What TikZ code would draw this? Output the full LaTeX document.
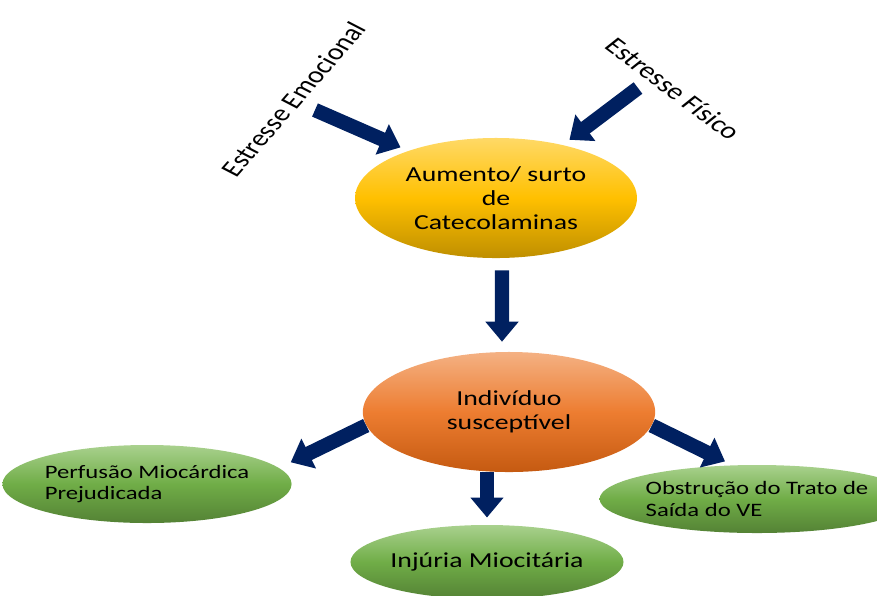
\documentclass[tikz,border=0pt]{standalone}
\usepackage{fontspec}
\setmainfont{Carlito}
\usetikzlibrary{shapes.geometric,arrows.meta}
\definecolor{azulseta}{HTML}{002060}
\definecolor{amareloA}{HTML}{FFD966}
\definecolor{amareloB}{HTML}{FFC000}
\definecolor{amareloC}{HTML}{BF8F00}
\definecolor{laranjaA}{HTML}{F4B183}
\definecolor{laranjaB}{HTML}{ED7D31}
\definecolor{laranjaC}{HTML}{C55A11}
\definecolor{verdeA}{HTML}{A9D18E}
\definecolor{verdeB}{HTML}{70AD47}
\definecolor{verdeC}{HTML}{548235}
\begin{document}
\begin{tikzpicture}[x=0.025cm,y=-0.025cm,
	esticado/.style={xscale=1.3,transform shape},
	bolha/.style={esticado,ellipse,inner sep=0pt,align=center},
	grande/.style={font=\fontsize{15.2}{17.3}\selectfont},
	pequena/.style={font=\fontsize{13.5}{15}\selectfont},
	amarela/.style={bolha,grande,top color=amareloA,bottom color=amareloC,middle color=amareloB},
	laranja/.style={bolha,grande,top color=laranjaA,bottom color=laranjaC,middle color=laranjaB},
	verde/.style={bolha,pequena,top color=verdeA,bottom color=verdeC,middle color=verdeB},
	seta/.style={azulseta,line width=0.36cm,-{Triangle[width=0.8cm,length=0.5cm]}}]
	\useasboundingbox (0,0) rectangle (877,595);
	\clip (0,0) rectangle (877,595);
	% causas
	\node[esticado,rotate=56,font=\fontsize{16.5}{18}\selectfont] (emo) at (293,99) {Estresse Emocional};
	\node[esticado,rotate=-44,font=\fontsize{16.5}{18}\selectfont] (fis) at (673,89) {Estresse Físico};
	\coordinate (emoTail) at (315,110);
	\coordinate (fisTail) at (638,88);
	% elipses
	\node[amarela,minimum width=5.42cm,minimum height=3cm] (catec) at (496,198) {Aumento/ surto\\de\\Catecolaminas};
	\node[laranja,minimum width=5.62cm,minimum height=3cm] (indiv) at (509,412) {Indivíduo\\susceptível};
	\node[verde,align=left,minimum width=5.25cm,minimum height=1.95cm] (perf) at (147,484) {Perfusão Miocárdica\\Prejudicada};
	\node[verde,grande,minimum width=5.17cm,minimum height=1.85cm] (injuria) at (487,562) {Injúria Miocitária};
	\node[verde,align=left,minimum width=5.85cm,minimum height=1.7cm] (obst) at (757,499) {Obstrução do Trato de\\Saída do VE};
	% setas
	\draw[seta,shorten >=0.21cm] (emoTail) -- (catec.145);
	\draw[seta,shorten >=0.21cm] (fisTail) -- (catec.46);
	\draw[seta,shorten <=0.3cm,shorten >=0.25cm] ([xshift=0.15cm]catec.south) -- ([xshift=-0.175cm]indiv.north);
	\draw[seta,shorten >=0.32cm] (indiv.187) -- (perf.9);
	\draw[seta,shorten >=0.18cm] (indiv.south -| injuria.north) -- (injuria.north);
	\draw[seta,shorten >=0.21cm] (indiv.353) -- (obst.119);
\end{tikzpicture}
\end{document}
